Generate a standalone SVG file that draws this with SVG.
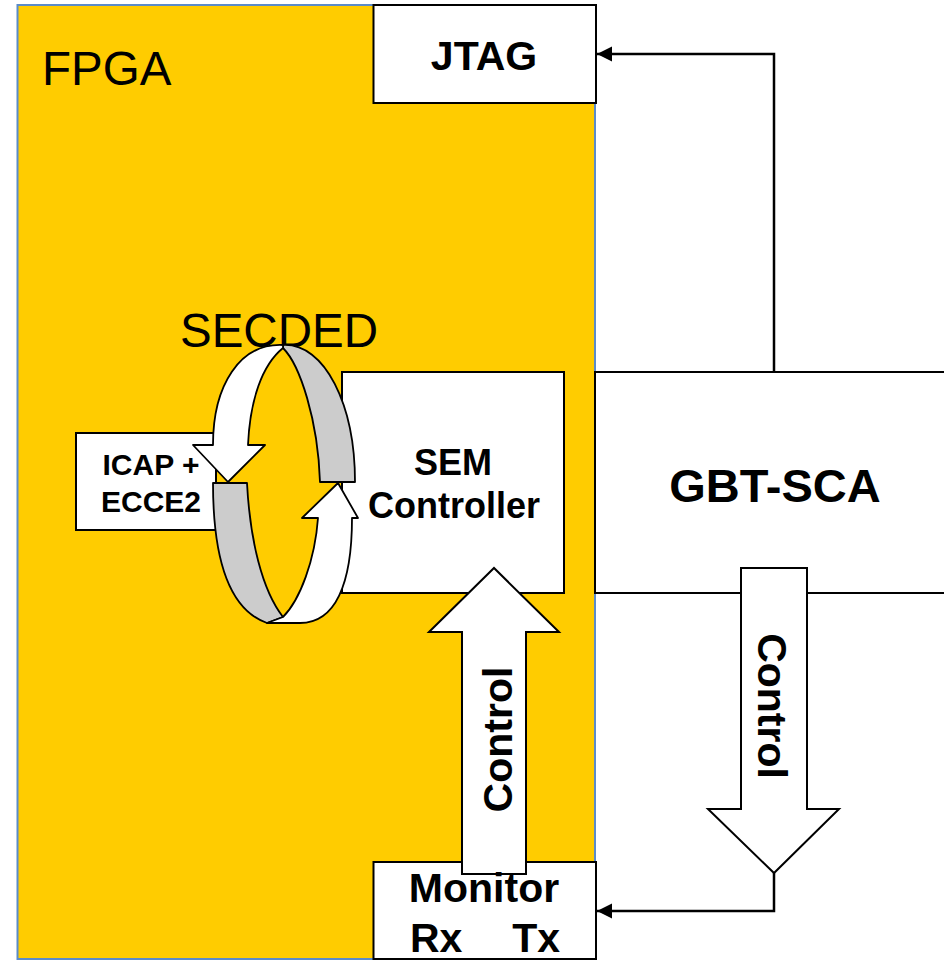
<svg xmlns="http://www.w3.org/2000/svg" width="944" height="961" viewBox="0 0 944 961">
<style>
.box{fill:#fff;stroke:#000;stroke-width:2}
.band{stroke:#000;stroke-width:1.8;stroke-linejoin:round}
.w{fill:#fff}
.g{fill:#cccccc}
.b{font-family:"Liberation Sans",Arial,sans-serif;font-weight:bold;fill:#000}
.r{font-family:"Liberation Sans",Arial,sans-serif;fill:#000}
.conn{fill:none;stroke:#000;stroke-width:2.5}
</style>
<defs>
<marker id="ah" markerWidth="16" markerHeight="16" refX="15" refY="7.5" orient="auto" markerUnits="userSpaceOnUse">
<path d="M0,0 L15,7.5 L0,15 Z" fill="#000"/>
</marker>
</defs>
<rect width="944" height="961" fill="#fff"/>
<g id="fpga">
<rect x="17.5" y="5" width="577.5" height="954" fill="#ffcc00" stroke="#5b8bc9" stroke-width="2"/>
<text class="r" x="42" y="85" font-size="47.5">FPGA</text>
</g>
<g id="jtag">
<rect class="box" x="373.5" y="5" width="222.5" height="98"/>
<text class="b" x="484" y="70" font-size="41" text-anchor="middle">JTAG</text>
</g>
<g id="icap">
<rect class="box" x="76" y="433" width="140" height="97"/>
<text class="b" x="151" y="475" font-size="30" text-anchor="middle">ICAP +</text>
<text class="b" x="151" y="512" font-size="30" text-anchor="middle">ECCE2</text>
</g>
<g id="sem">
<rect class="box" x="342" y="372" width="222" height="221"/>
</g>
<g id="secded">
<text class="r" x="180" y="347" font-size="47.5">SECDED</text>
<path class="band g" d="M283,345 C325,343 355,405 355,482 L320,482 C318,420 300,365 283,348 Z"/>
<path class="band w" d="M283,345 C240,343 213,385 213,445 L193,445 L228,482 L265,445 L248,445 C250,400 262,365 283,348 Z"/>
<path class="band g" d="M213,483 L247,483 C250,540 262,590 283,617 L267,623 C230,610 213,560 213,483 Z"/>
<path class="band w" d="M267,623 L283,617 C300,600 315,560 318,518 L302,518 L338,483 L358,518 L352,518 C352,585 335,623 300,623 Z"/>
</g>
<g id="sem-label">
<text class="b" x="453" y="475" font-size="36" text-anchor="middle">SEM</text>
<text class="b" x="454" y="518" font-size="36" text-anchor="middle">Controller</text>
</g>
<g id="gbt-sca">
<rect class="box" x="595" y="372" width="360" height="221"/>
<text class="b" x="775" y="502" font-size="47" text-anchor="middle">GBT-SCA</text>
</g>
<g id="monitor">
<rect class="box" x="373.5" y="862" width="222.5" height="97"/>
</g>
<g id="connectors">
<path class="conn" d="M774,372 V54 H597" marker-end="url(#ah)"/>
<path class="conn" d="M774,873 V911 H597" marker-end="url(#ah)"/>
</g>
<g id="control-up">
<path d="M462,874 V632 H429 L494,568 L559,632 H526 V874 Z" fill="#fff" stroke="#000" stroke-width="2" stroke-linejoin="miter"/>
<text class="b" font-size="41" text-anchor="middle" transform="translate(512,739.5) rotate(-90)">Control</text>
</g>
<g id="control-down">
<path d="M741,568 H807 V809 H839 L774,873 L708,809 H741 Z" fill="#fff" stroke="#000" stroke-width="2" stroke-linejoin="miter"/>
<text class="b" font-size="41" text-anchor="middle" transform="translate(758,706) rotate(90)">Control</text>
</g>
<g id="monitor-label">
<text class="b" x="484" y="902" font-size="41" text-anchor="middle">Monitor</text>
<text class="b" x="410" y="952" font-size="41">Rx</text>
<text class="b" x="560" y="952" font-size="41" text-anchor="end">Tx</text>
</g>
</svg>
